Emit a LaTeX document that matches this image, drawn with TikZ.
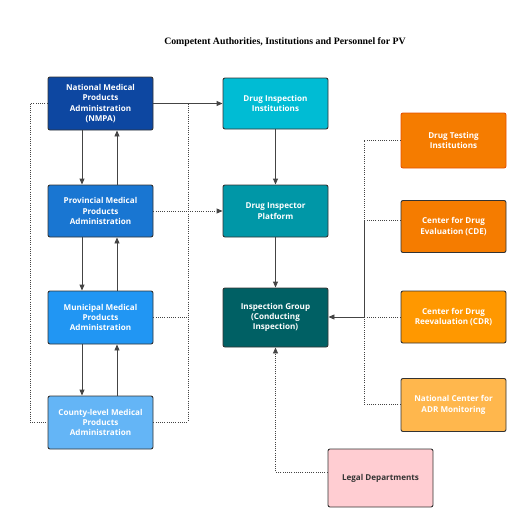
\documentclass[tikz,border=0pt]{standalone}
\usepackage{fontspec}
\setmainfont{Open Sans}[BoldFont={Open Sans Bold}]
\newfontfamily\titlefont{Liberation Serif}
\usetikzlibrary{arrows.meta}
\definecolor{cNMPA}{HTML}{0D47A1}
\definecolor{cProv}{HTML}{1976D2}
\definecolor{cMun}{HTML}{2196F3}
\definecolor{cCounty}{HTML}{64B5F6}
\definecolor{cDII}{HTML}{00BCD4}
\definecolor{cDIP}{HTML}{0097A7}
\definecolor{cIG}{HTML}{006064}
\definecolor{cDT}{HTML}{F57C00}
\definecolor{cDTb}{HTML}{E65100}
\definecolor{cCDE}{HTML}{F57C00}
\definecolor{cCDR}{HTML}{FF9800}
\definecolor{cADR}{HTML}{FFB74D}
\definecolor{cLegal}{HTML}{FFCDD2}
\definecolor{cLine}{HTML}{444444}
\definecolor{cBorder}{HTML}{333333}
\tikzset{
  box/.style={draw=cBorder, line width=0.9pt, rounded corners=2pt,
    minimum width=105pt, align=center, text=white,
    font=\fontsize{8.1}{10.3}\selectfont\bfseries, inner sep=2pt},
  conn/.style={draw=cLine, line width=0.9pt},
  arr/.style={conn, -{Triangle[length=6pt,width=5pt]}},
  dot/.style={draw=cLine, line width=0.9pt, dash pattern=on 1pt off 1.2pt},
  darr/.style={dot, -{Triangle[length=6pt,width=5pt]}},
}
\begin{document}
\begin{tikzpicture}[x=1pt,y=-1pt]
\useasboundingbox (0,0) rectangle (521,527);
\node[font=\titlefont\fontsize{9.8}{12}\selectfont\bfseries] (title) at (285,42) {Competent Authorities, Institutions and Personnel for PV};

\node[box, fill=cNMPA, minimum height=53pt] (nmpa) at (100.5,103.5) {National Medical\\Products\\Administration\\(NMPA)};
\node[box, fill=cProv, minimum height=52pt] (prov) at (100.5,211) {Provincial Medical\\Products\\Administration};
\node[box, fill=cMun, minimum height=53pt] (mun) at (100.5,317.5) {Municipal Medical\\Products\\Administration};
\node[box, fill=cCounty, minimum height=53pt] (county) at (100.5,422.5) {County-level Medical\\Products\\Administration};

\node[box, fill=cDII, minimum height=51pt] (dii) at (275.5,103.5) {Drug Inspection\\Institutions};
\node[box, fill=cDIP, minimum height=52pt] (dip) at (275.5,211) {Drug Inspector\\Platform};
\node[box, fill=cIG, minimum height=59pt] (ig) at (275.5,317.5) {Inspection Group\\(Conducting\\Inspection)};

\node[box, fill=cDT, draw=cDTb, minimum height=55pt] (dt) at (453.5,140.5) {Drug Testing\\Institutions};
\node[box, fill=cCDE, minimum height=52pt] (cde) at (453.5,226.5) {Center for Drug\\Evaluation (CDE)};
\node[box, fill=cCDR, minimum height=52pt] (cdr) at (453.5,317) {Center for Drug\\Reevaluation (CDR)};
\node[box, fill=cADR, minimum height=53pt] (adr) at (453.5,405) {National Center for\\ADR Monitoring};
\node[box, fill=cLegal, text=cBorder, minimum height=58pt] (legal) at (380.5,478) {Legal Departments};

% left column vertical arrows
\draw[arr] ([xshift=-18.5pt]nmpa.south) -- ([xshift=-18.5pt]prov.north);
\draw[arr] ([xshift=16.5pt]prov.north) -- ([xshift=16.5pt]nmpa.south);
\draw[arr] ([xshift=-18.5pt]prov.south) -- ([xshift=-18.5pt]mun.north);
\draw[arr] ([xshift=16.5pt]mun.north) -- ([xshift=16.5pt]prov.south);
\draw[arr] ([xshift=-18.5pt]mun.south) -- ([xshift=-18.5pt]county.north);
\draw[arr] ([xshift=16.5pt]county.north) -- ([xshift=16.5pt]mun.south);

% left dotted loop
\coordinate (lT) at (30,103.5);
\coordinate (lB) at (30,422.5);
\draw[dot] (nmpa.west) -- (lT) -- (lB) -- (county.west);

% right of left column
\coordinate (rT) at (188,103.5);
\coordinate (rP) at (188,211);
\coordinate (rM) at (188,317.5);
\coordinate (rC) at (188,422.5);
\draw[dot] (rT) -- (rC);
\draw[dot] (mun.east) -- (rM);
\draw[dot] (county.east) -- (rC);
\draw[dot] (prov.east) -- (rP);
\draw[darr] (rP) -- (dip.west);
\draw[arr] (nmpa.east) -- (dii.west);

% middle column
\draw[arr] (dii.south) -- (dip.north);
\draw[arr] (dip.south) -- (ig.north);

% right bus
\coordinate (bDT) at (364,140.5);
\coordinate (bCDE) at (364,220);
\coordinate (bCDR) at (364,317);
\coordinate (bADR) at (364,404);
\draw[dot] (dt.west) -- (bDT) -- (bCDE);
\draw[dot] (cde.west |- bCDE) -- (bCDE);
\draw[conn] (bCDE) -- (bCDR);
\draw[dot] (cdr.west) -- (bCDR);
\draw[dot] (adr.west |- bADR) -- (bADR) -- (bCDR);
\draw[arr] (bCDR) -- (ig.east |- bCDR);

% legal
\coordinate (lg) at (275.5,472);
\draw[darr] (legal.west |- lg) -- (lg) -- (ig.south);
\end{tikzpicture}
\end{document}
